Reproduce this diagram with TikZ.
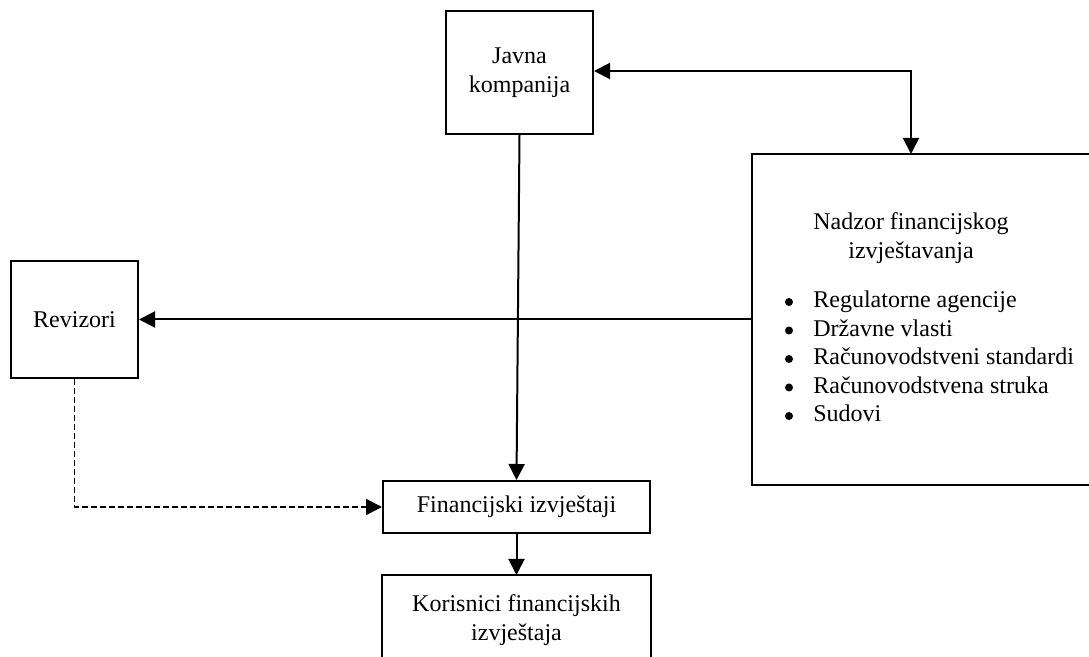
\documentclass[tikz,border=0pt]{standalone}
\usepackage{fontspec}
\setmainfont{Liberation Serif}
\usetikzlibrary{arrows.meta}

\begin{document}
\begin{tikzpicture}[x=0.5pt, y=-0.5pt,
    font=\fontsize{12}{14.25}\selectfont,
    box/.style={draw=black, line width=1pt, align=center, inner sep=0pt},
    open box/.style={line width=1pt},
    link/.style={line width=1pt, -{Triangle[length=8pt, width=8pt]}},
    audit/.style={link, line width=0.8pt, dash pattern=on 3pt off 1.5pt}]

\useasboundingbox (0,0) rectangle (1089,657);

 % boxes
 \node[box, minimum width=73.5pt, minimum height=61.5pt] (javna) at (519.5,72.5) {Javna\\kompanija};
 \node[box, minimum width=63.5pt, minimum height=58.5pt] (revizori) at (74.5,319.5) {Revizori};
 \node[box, minimum width=133.5pt, minimum height=26pt] (fin) at (516.5,507) {Financijski izvještaji};
 \node[box, draw=none, minimum width=133.5pt, minimum height=44pt] (kor) at (516.5,620) {Korisnici financijskih\\izvještaja};
 \draw[open box] (kor.south west) -- (kor.north west) -- (kor.north east) -- (kor.south east);

 % oversight box, running off the right edge
 \node[box, draw=none, minimum width=168pt, minimum height=164.5pt] (nadzor) at (921,319.5) {};
 \draw[open box] (nadzor.north east) -- (nadzor.north west)
                 -- (nadzor.south west) -- (nadzor.south east);
 \node[align=center, inner sep=0pt] (naslov) at (911,238) {Nadzor financijskog\\izvještavanja};
 \foreach \t [count=\i] in {Regulatorne agencije, Državne vlasti,
     Računovodstveni standardi, Računovodstvena struka, Sudovi} {
   \fill (789,{273.5+28.5*\i}) circle (2pt);
   \node[anchor=base west, inner sep=0pt] (stavka\i) at (813,{279.5+28.5*\i}) {\t};
 }

 % connectors
 \coordinate (kut) at (911,71);
 \draw[link, {Triangle[length=8pt, width=8pt]}-{Triangle[length=8pt, width=8pt]}]
   (kut -| javna.east) -- (kut) -- (kut |- nadzor.north);
 \draw[link] (nadzor.west) -- (revizori.east);
 \draw[link] (javna.south) -- (fin.north);
 \draw[link] (fin.south) -- (kor.north);
 \draw[audit] (revizori.south) |- (fin.west);
\end{tikzpicture}
\end{document}
